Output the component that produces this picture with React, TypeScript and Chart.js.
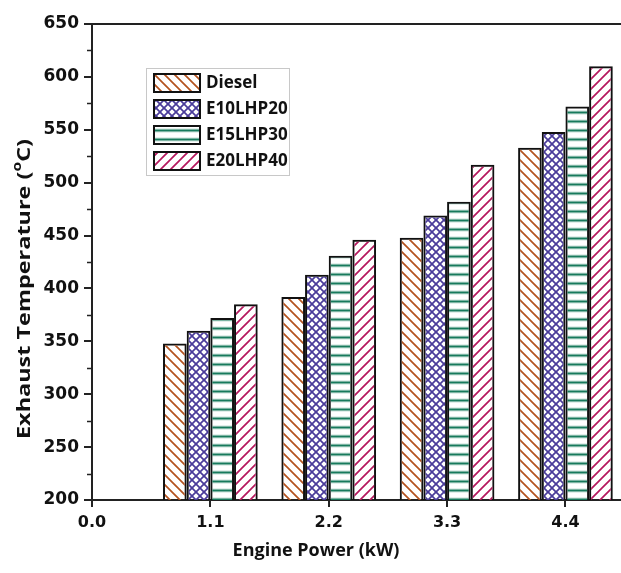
import { useEffect, useRef } from 'react';
import { Chart, registerables } from 'chart.js';

Chart.register(...registerables);

// ---- data ----
const powers = [1.1, 2.2, 3.3, 4.4];
const xTickValues = [0, 1.1, 2.2, 3.3, 4.4];
const yMinorTicks = [225, 275, 325, 375, 425, 475, 525, 575, 625];
const seriesNames = ['Diesel', 'E10LHP20', 'E15LHP30', 'E20LHP40'];
const dieselTemp = [348, 392, 448, 533];
const e10Temp = [360, 413, 469, 548];
const e15Temp = [372, 431, 482, 572];
const e20Temp = [385, 446, 517, 610];
const seriesColors = ['#B4531F', '#4A3C9A', '#177A5C', '#B5185E'];
const seriesHatch = ['back', 'cross', 'horiz', 'fwd'];
const xTitle = 'Engine Power (kW)';

const FONT = "'Open Sans', 'DejaVu Sans', sans-serif";
const TICK_FONT = "'DejaVu Sans', sans-serif";

function makePattern(kind: string, color: string): CanvasPattern | string {
  const p = kind === 'cross' ? 8 : kind === 'horiz' ? 9 : 10;
  const c = document.createElement('canvas');
  c.width = p;
  c.height = p;
  const g = c.getContext('2d');
  if (!g) return color;
  g.strokeStyle = color;
  g.fillStyle = color;
  g.lineWidth = 1.7;
  if (kind === 'back' || kind === 'cross') {
    g.beginPath();
    for (const k of [-p, 0, p]) {
      g.moveTo(k - 1, -1);
      g.lineTo(k + p + 1, p + 1);
    }
    g.stroke();
  }
  if (kind === 'fwd' || kind === 'cross') {
    g.beginPath();
    for (const k of [-p, 0, p]) {
      g.moveTo(k - 1, p + 1);
      g.lineTo(k + p + 1, -1);
    }
    g.stroke();
  }
  if (kind === 'horiz') {
    g.globalAlpha = 0.12;
    g.fillRect(0, 2, p, 5);
    g.globalAlpha = 1;
    g.fillRect(0, 3.5, p, 2);
  }
  const pat = g.createPattern(c, 'repeat');
  return pat || color;
}

export default function App() {
  const ref = useRef<HTMLCanvasElement | null>(null);

  useEffect(() => {
    document.body.style.margin = '0';
    document.body.style.background = '#ffffff';
    const canvas = ref.current;
    if (!canvas) return;
    const patterns = seriesHatch.map((h, i) => makePattern(h, seriesColors[i]));
    const seriesValues = [dieselTemp, e10Temp, e15Temp, e20Temp];

    const decor = {
      id: 'decor',
      afterDraw(chart: any) {
        const { ctx, chartArea: a, scales } = chart;
        const y = scales.y;
        ctx.save();
        // top frame line
        ctx.strokeStyle = '#222';
        ctx.lineWidth = 2;
        ctx.beginPath();
        ctx.moveTo(a.left - 8, a.top);
        ctx.lineTo(a.right + 20, a.top);
        ctx.stroke();
        // minor ticks
        ctx.lineWidth = 1.5;
        ctx.beginPath();
        for (const v of yMinorTicks) {
          const py = Math.round(y.getPixelForValue(v)) + 0.5;
          ctx.moveTo(a.left - 5, py);
          ctx.lineTo(a.left, py);
        }
        ctx.stroke();

        // axis titles
        ctx.fillStyle = '#111';
        ctx.font = `bold 18px ${FONT}`;
        ctx.textAlign = 'center';
        ctx.textBaseline = 'middle';
        ctx.fillText(xTitle, 316, 551);

        ctx.save();
        ctx.translate(25, 289);
        ctx.rotate(-Math.PI / 2);
        const p1 = 'Exhaust Temperature (';
        const sup = 'o';
        const p2 = 'C)';
        const big = `bold 18px ${FONT}`;
        const small = `bold 12px ${FONT}`;
        ctx.font = big;
        const w1 = ctx.measureText(p1).width;
        const w3 = ctx.measureText(p2).width;
        ctx.font = small;
        const w2 = ctx.measureText(sup).width;
        const total = w1 + w2 + w3;
        const stretch = 300 / total;
        ctx.scale(stretch, 1);
        let cx = -total / 2;
        ctx.textAlign = 'left';
        ctx.font = big;
        ctx.fillText(p1, cx, 0);
        cx += w1;
        ctx.font = small;
        ctx.fillText(sup, cx, -7);
        cx += w2;
        ctx.font = big;
        ctx.fillText(p2, cx, 0);
        ctx.restore();

        // legend
        const lx = 146, ly = 68, lw = 143, lh = 107;
        ctx.strokeStyle = '#c8c8c8';
        ctx.lineWidth = 1;
        ctx.strokeRect(lx + 0.5, ly + 0.5, lw, lh);
        const rowTops = [74, 100, 126, 152];
        seriesNames.forEach((name, i) => {
          const top = rowTops[i];
          ctx.fillStyle = '#ffffff';
          ctx.fillRect(154, top, 46, 18);
          ctx.fillStyle = patterns[i] as any;
          ctx.fillRect(154, top, 46, 18);
          ctx.strokeStyle = '#111';
          ctx.lineWidth = 2;
          ctx.strokeRect(154, top, 46, 18);
          ctx.fillStyle = '#111';
          ctx.font = `bold 17px ${FONT}`;
          ctx.textAlign = 'left';
          ctx.textBaseline = 'middle';
          ctx.fillText(name, 206, top + 9.5);
        });
        ctx.restore();
      },
    };

    const chart = new Chart(canvas, {
      type: 'bar',
      data: {
        datasets: seriesNames.map((name, i) => ({
          label: name,
          data: powers.map((p, j) => ({ x: p, y: seriesValues[i][j] })),
          backgroundColor: patterns[i] as any,
          borderColor: '#111',
          borderWidth: 2,
          borderSkipped: false,
          categoryPercentage: 0.8,
          barPercentage: 1.0,
        })),
      },
      options: {
        animation: false,
        responsive: false,
        devicePixelRatio: 1,
        layout: { padding: { top: 24, left: 0, right: 2, bottom: 0 } },
        plugins: {
          legend: { display: false },
          tooltip: { enabled: false },
        },
        scales: {
          x: {
            type: 'linear',
            offset: false,
            min: 0,
            max: 5.0,
            afterBuildTicks: (scale: any) => {
              scale.ticks = xTickValues.map((v) => ({ value: v }));
            },
            afterFit: (scale: any) => {
              scale.height = 73;
            },
            ticks: {
              font: { family: TICK_FONT, weight: 'bold', size: 16 },
              color: '#111',
              padding: 6,
              maxRotation: 0,
              autoSkip: false,
              callback: (v: any) => Number(v).toFixed(1),
            },
            grid: {
              offset: false,
              drawOnChartArea: false,
              drawTicks: true,
              tickLength: 7,
              tickColor: '#222',
              tickWidth: 2,
              lineWidth: 2,
            },
            border: { display: true, color: '#222', width: 2 },
          },
          y: {
            type: 'linear',
            min: 200,
            max: 650,
            afterFit: (scale: any) => {
              scale.width = 92;
            },
            ticks: {
              stepSize: 50,
              font: { family: TICK_FONT, weight: 'bold', size: 17 },
              color: '#111',
              padding: 5,
            },
            grid: {
              drawOnChartArea: false,
              drawTicks: true,
              tickLength: 8,
              tickColor: '#222',
              tickWidth: 2,
              lineWidth: 2,
            },
            border: { display: true, color: '#222', width: 2 },
          },
        },
      },
      plugins: [decor],
    });
    return () => chart.destroy();
  }, []);

  return (
    <div style={{ width: 621, height: 573, overflow: 'hidden', background: '#fff' }}>
      <canvas ref={ref} width={632} height={573} style={{ display: 'block' }} />
    </div>
  );
}
